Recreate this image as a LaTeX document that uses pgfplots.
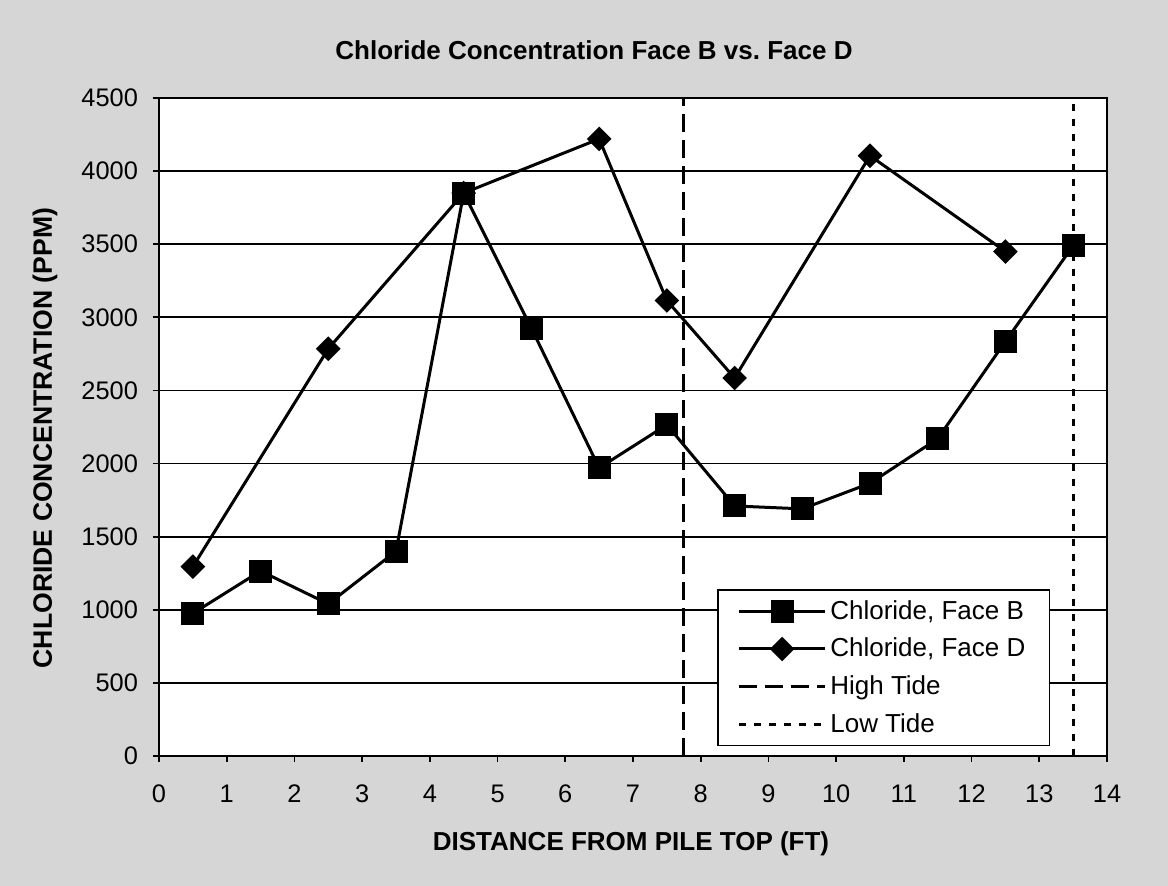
\documentclass[border=0pt]{standalone}
\usepackage{pgfplots}
\pgfplotsset{compat=1.18}
\usepackage{fontspec}
\setmainfont{Liberation Sans}
\frenchspacing
\begin{document}
\begin{tikzpicture}
\fill[black!16] (0,0) rectangle (584pt,443pt);
\useasboundingbox (0,0) rectangle (584pt,443pt);
\begin{axis}[
  at={(79.5pt,65pt)}, anchor=south west,
  scale only axis, width=474pt, height=329pt,
  xmin=0, xmax=14, ymin=0, ymax=4500,
  xtick={0,1,...,14}, ytick={0,500,...,4500},
  ymajorgrids, grid style={black, line width=0.9pt},
  axis background/.style={fill=white},
  axis line style={line width=1.4pt},
  tick pos=left, tick align=outside, major tick length=3pt,
  tick style={black, line width=0.9pt},
  tick label style={font=\fontsize{12.7}{14}\selectfont},
  /pgf/number format/assume math mode=true,
  /pgf/number format/1000 sep={},
  xticklabel style={yshift=-8pt},
  yticklabel style={xshift=-4pt},
  legend cell align=left,
  legend style={at={(0.5885,0.2533)}, anchor=north west, draw=black,
    line width=0.9pt, fill=white, font=\fontsize{13}{15}\selectfont,
    inner xsep=10pt, inner ysep=3pt, row sep=4pt},
  legend image code/.code={\draw[#1, mark repeat=2, mark phase=2] plot coordinates {(0cm,0cm) (0.75cm,0cm) (1.5cm,0cm)};},
]
\addplot[black, line width=1.5pt, mark=square*, mark size=5pt, mark options={solid}] coordinates {
(0.5,975) (1.5,1265) (2.5,1040) (3.5,1400) (4.5,3850) (5.5,2925) (6.5,1970) (7.5,2265)
(8.5,1710) (9.5,1690) (10.5,1865) (11.5,2170) (12.5,2835) (13.5,3490)};
\addlegendentry{Chloride, Face B}
\addplot[black, line width=1.5pt, mark=square*, mark size=3.6pt, mark options={solid, rotate=45}] coordinates {
(0.5,1295) (2.5,2785) (4.5,3850) (6.5,4220) (7.5,3115) (8.5,2585) (10.5,4105) (12.5,3450)};
\addlegendentry{Chloride, Face D}
\addplot[black, line width=1.5pt, dash pattern=on 9pt off 4pt] coordinates {(7.75,0) (7.75,4500)};
\addlegendentry{High Tide}
\addplot[black, line width=1.6pt, dash pattern=on 3.3pt off 4.2pt] coordinates {(13.5,0) (13.5,4500)};
\addlegendentry{Low Tide}
\end{axis}
\node[font=\bfseries\fontsize{13}{15}\selectfont] at (297pt,418pt) {Chloride Concentration Face B vs. Face D};
\node[font=\bfseries\fontsize{13}{15}\selectfont] at (315.5pt,21pt) {DISTANCE FROM PILE TOP (FT)};
\node[font=\bfseries\fontsize{13.3}{15}\selectfont, rotate=90] at (22.5pt,224pt) {CHLORIDE CONCENTRATION (PPM)};
\end{tikzpicture}
\end{document}
